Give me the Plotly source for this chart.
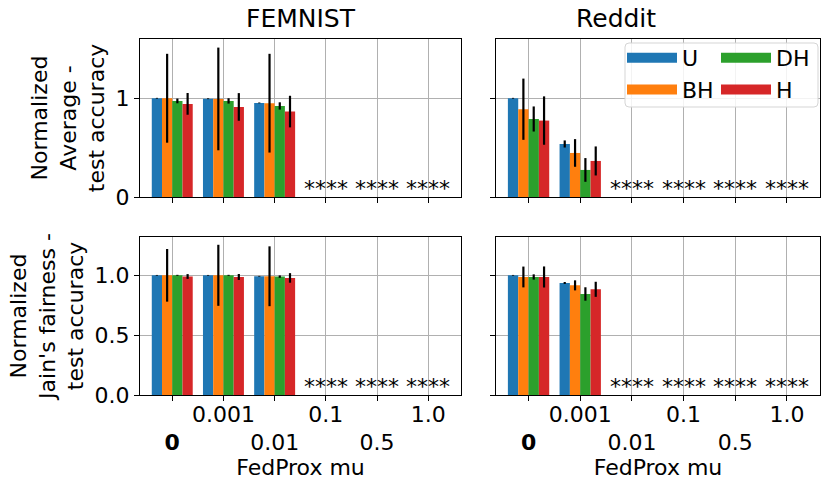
import plotly.graph_objects as go

mu_labels = ['0', '0.001', '0.01', '0.1', '0.5', '1.0']
methods = ['U', 'BH', 'DH', 'H']
colors = ['#1f77b4', '#ff7f0e', '#2ca02c', '#d62728']

# None = no result for that mu (shown as ****)
femnist_avg = {
    'U':  [1.000, 0.995, 0.953, None, None, None],
    'BH': [1.000, 0.993, 0.950, None, None, None],
    'DH': [0.973, 0.973, 0.922, None, None, None],
    'H':  [0.943, 0.912, 0.865, None, None, None],
}
femnist_avg_err = {
    'U':  [0.004, 0.004, 0.004, 0, 0, 0],
    'BH': [0.450, 0.520, 0.500, 0, 0, 0],
    'DH': [0.024, 0.027, 0.037, 0, 0, 0],
    'H':  [0.110, 0.140, 0.160, 0, 0, 0],
}
reddit_avg = {
    'U':  [1.000, 0.537, None, None, None, None],
    'BH': [0.889, 0.446, None, None, None, None],
    'DH': [0.790, 0.274, None, None, None, None],
    'H':  [0.774, 0.365, None, None, None, None],
}
reddit_avg_err = {
    'U':  [0.004, 0.036, 0, 0, 0, 0],
    'BH': [0.310, 0.140, 0, 0, 0, 0],
    'DH': [0.127, 0.120, 0, 0, 0, 0],
    'H':  [0.245, 0.147, 0, 0, 0, 0],
}
femnist_jain = {
    'U':  [1.000, 1.000, 0.992, None, None, None],
    'BH': [1.000, 1.000, 0.992, None, None, None],
    'DH': [1.000, 1.000, 0.989, None, None, None],
    'H':  [0.990, 0.986, 0.978, None, None, None],
}
femnist_jain_err = {
    'U':  [0.003, 0.003, 0.003, 0, 0, 0],
    'BH': [0.220, 0.255, 0.250, 0, 0, 0],
    'DH': [0.004, 0.004, 0.010, 0, 0, 0],
    'H':  [0.020, 0.025, 0.040, 0, 0, 0],
}
reddit_jain = {
    'U':  [1.000, 0.936, None, None, None, None],
    'BH': [0.986, 0.916, None, None, None, None],
    'DH': [0.986, 0.844, None, None, None, None],
    'H':  [0.986, 0.883, None, None, None, None],
}
reddit_jain_err = {
    'U':  [0.003, 0.008, 0, 0, 0, 0],
    'BH': [0.087, 0.042, 0, 0, 0, 0],
    'DH': [0.022, 0.056, 0, 0, 0, 0],
    'H':  [0.088, 0.063, 0, 0, 0, 0],
}

W, H = 831, 492
FONT = 'DejaVu Sans'

def px_x(a, b):
    return [a / W, b / W]

def px_y(top, bottom):
    return [1 - bottom / H, 1 - top / H]

panels = [
    ('x', 'y', femnist_avg, femnist_avg_err),
    ('x2', 'y2', reddit_avg, reddit_avg_err),
    ('x3', 'y3', femnist_jain, femnist_jain_err),
    ('x4', 'y4', reddit_jain, reddit_jain_err),
]

fig = go.Figure()
xs = list(range(len(mu_labels)))

for xa, ya, vals, errs in panels:
    for m, c in zip(methods, colors):
        fig.add_trace(go.Bar(
            x=xs, y=vals[m], name=m, marker_color=c, marker_line_width=0,
            error_y=dict(type='data', array=errs[m], color='black', thickness=2.2, width=0),
            xaxis=xa, yaxis=ya, showlegend=False,
        ))
    # **** where a mu setting has no result
    for i in xs:
        if all(vals[m][i] is None for m in methods):
            fig.add_annotation(
                x=i, y=0, xref=xa, yref=ya, text='****', showarrow=False,
                yanchor='bottom', yshift=-6, font=dict(size=22, color='black', family=FONT),
            )

# legend proxies with wide swatches, two columns like ncol=2
for m, c in zip(methods, colors):
    fig.add_trace(go.Scatter(
        x=[None], y=[None], mode='lines', name=m, line=dict(color=c, width=10),
        xaxis='x2', yaxis='y2', legend='legend' if m in ('U', 'BH') else 'legend2',
    ))

axis_common = dict(
    showline=True, mirror=True, linecolor='black', linewidth=1.2,
    ticks='outside', ticklen=5, tickcolor='black', automargin=False,
    showgrid=True, gridcolor='#b0b0b0', gridwidth=1, zeroline=False,
    tickfont=dict(size=22, color='black', family=FONT),
)

xtick_text = [('<br><b>%s</b>' % t) if i == 0 else (t if i % 2 else '<br>' + t)
              for i, t in enumerate(mu_labels)]

xcommon = dict(axis_common, range=[-0.63, 5.64], tickvals=xs, ticktext=xtick_text,
               tickangle=0, ticklabelstandoff=-6)
xtitle = dict(text='FedProx mu', font=dict(size=22, color='black', family=FONT), standoff=2)
ytitle_font = dict(size=22, color='black', family=FONT)

fig.update_layout(
    width=W, height=H,
    margin=dict(l=0, r=0, t=0, b=0),
    paper_bgcolor='white', plot_bgcolor='white',
    barmode='group', bargap=0.2, bargroupgap=0,
    font=dict(family=FONT, color='black'),
    xaxis=dict(xcommon, domain=px_x(140, 461), anchor='y', showticklabels=False),
    xaxis2=dict(xcommon, domain=px_x(496, 820), anchor='y2', showticklabels=False),
    xaxis3=dict(xcommon, domain=px_x(140, 461), anchor='y3', title=xtitle),
    xaxis4=dict(xcommon, domain=px_x(496, 820), anchor='y4', title=xtitle),
    yaxis=dict(axis_common, domain=px_y(39, 197), anchor='x', range=[0, 1.6],
               tickvals=[0, 1], ticktext=['0', '1'],
               title=dict(text='Normalized<br>Average -<br>test accuracy',
                          font=ytitle_font, standoff=4)),
    yaxis2=dict(axis_common, domain=px_y(39, 197), anchor='x2', range=[0, 1.6],
                tickvals=[0, 1], showticklabels=False),
    yaxis3=dict(axis_common, domain=px_y(237, 395), anchor='x3', range=[0, 1.32],
                tickvals=[0, 0.5, 1.0], ticktext=['0.0', '0.5', '1.0'],
                title=dict(text="Normalized<br>Jain's fairness -<br>test accuracy",
                           font=ytitle_font, standoff=4)),
    yaxis4=dict(axis_common, domain=px_y(237, 395), anchor='x4', range=[0, 1.32],
                tickvals=[0, 0.5, 1.0], showticklabels=False),
    legend=dict(x=622 / W, y=1 - 37 / H, xanchor='left', yanchor='top',
                bgcolor='rgba(0,0,0,0)', borderwidth=0, itemwidth=50,
                font=dict(size=22, color='black', family=FONT)),
    legend2=dict(x=716 / W, y=1 - 37 / H, xanchor='left', yanchor='top',
                 bgcolor='rgba(0,0,0,0)', borderwidth=0, itemwidth=50,
                 font=dict(size=22, color='black', family=FONT)),
)

# legend frame behind the two legend columns
x0, x1 = 625 / W, 818 / W
y0, y1 = 1 - 107 / H, 1 - 43 / H
rx, ry = 4 / W, 4 / H
path = (f'M{x0 + rx},{y0} L{x1 - rx},{y0} Q{x1},{y0} {x1},{y0 + ry} '
        f'L{x1},{y1 - ry} Q{x1},{y1} {x1 - rx},{y1} L{x0 + rx},{y1} '
        f'Q{x0},{y1} {x0},{y1 - ry} L{x0},{y0 + ry} Q{x0},{y0} {x0 + rx},{y0} Z')
fig.add_shape(type='path', path=path, xref='paper', yref='paper', layer='above',
              line=dict(color='#d5d5d5', width=1), fillcolor='rgba(255,255,255,0.85)')

for title, dom in [('FEMNIST', px_x(140, 461)), ('Reddit', px_x(496, 820))]:
    fig.add_annotation(x=(dom[0] + dom[1]) / 2, y=1 - 18 / H, xref='paper', yref='paper',
                       text=title, showarrow=False, yanchor='middle',
                       font=dict(size=25, color='black', family=FONT))

# page body has an 8px default margin; drop it so the figure sits at the window origin
fig.write_html('out.html', config={'displayModeBar': False},
               post_script="document.body.style.margin='0';")
